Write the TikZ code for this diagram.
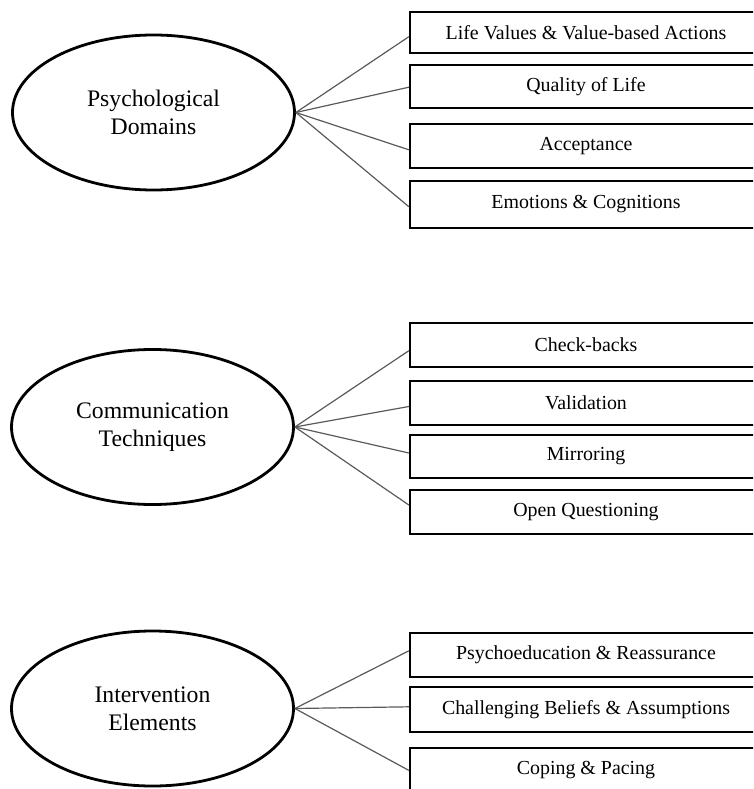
\documentclass[tikz,border=0pt]{standalone}
\usepackage{fontspec}
\setmainfont{Liberation Serif}
\usetikzlibrary{shapes.geometric,calc}
\definecolor{linkgray}{HTML}{5A5A5A}
\tikzset{
  domainell/.style={draw=black, line width=2.8pt, ellipse, minimum width=282pt, minimum height=155pt, inner sep=0pt, align=center, font=\fontsize{23.7}{28}\selectfont},
  itembox/.style={draw=black, line width=2.3pt, rectangle, minimum width=352pt, inner sep=0pt, font=\fontsize{19.9}{24}\selectfont},
  linkline/.style={draw=linkgray, line width=1.2pt}
}
\begin{document}
\begin{tikzpicture}[x=1pt,y=-1pt]
\useasboundingbox (0,0) rectangle (753,789);
\clip (0,0) rectangle (753,789);
% Section 1
\node[domainell] (e1) at (153.5,112.5) {Psychological\\Domains};
\node[itembox, minimum height=41pt] (a1) at (586,32.2) {Life Values \& Value-based Actions};
\node[itembox, minimum height=43pt] (a2) at (586,86.7) {Quality of Life};
\node[itembox, minimum height=44pt] (a3) at (586,146.3) {Acceptance};
\node[itembox, minimum height=47pt] (a4) at (586,204.2) {Emotions \& Cognitions};
\draw[linkline] (e1.east) -- ($(a1.west)+(0,4.5)$);
\draw[linkline] (e1.east) -- ($(a2.west)+(0,0.5)$);
\draw[linkline] (e1.east) -- ($(a3.west)+(0,3.5)$);
\draw[linkline] (e1.east) -- ($(a4.west)+(0,2.5)$);
% Section 2
\node[domainell] (e2) at (152.5,427) {Communication\\Techniques};
\node[itembox, minimum height=44pt] (c1) at (586,344.7) {Check-backs};
\node[itembox, minimum height=44pt] (c2) at (586,403) {Validation};
\node[itembox, minimum height=43pt] (c3) at (586,456.5) {Mirroring};
\node[itembox, minimum height=44pt] (c4) at (586,512) {Open Questioning};
\draw[linkline] (e2.east) -- ($(c1.west)+(0,6)$);
\draw[linkline] (e2.east) -- ($(c2.west)+(0,3.5)$);
\draw[linkline] (e2.east) -- ($(c3.west)+(0,-3.5)$);
\draw[linkline] (e2.east) -- ($(c4.west)+(0,-7)$);
% Section 3
\node[domainell] (e3) at (152.5,708.5) {Intervention\\Elements};
\node[itembox, minimum height=44pt] (i1) at (586,654.8) {Psychoeducation \& Reassurance};
\node[itembox, minimum height=45pt] (i2) at (586,709.3) {Challenging Beliefs \& Assumptions};
\node[itembox, minimum height=45pt] (i3) at (586,770.4) {Coping \& Pacing};
\draw[linkline] (e3.east) -- ($(i1.west)+(0,-4)$);
\draw[linkline] (e3.east) -- ($(i2.west)+(0,-2.5)$);
\draw[linkline] (e3.east) -- (i3.west);
\end{tikzpicture}
\end{document}
